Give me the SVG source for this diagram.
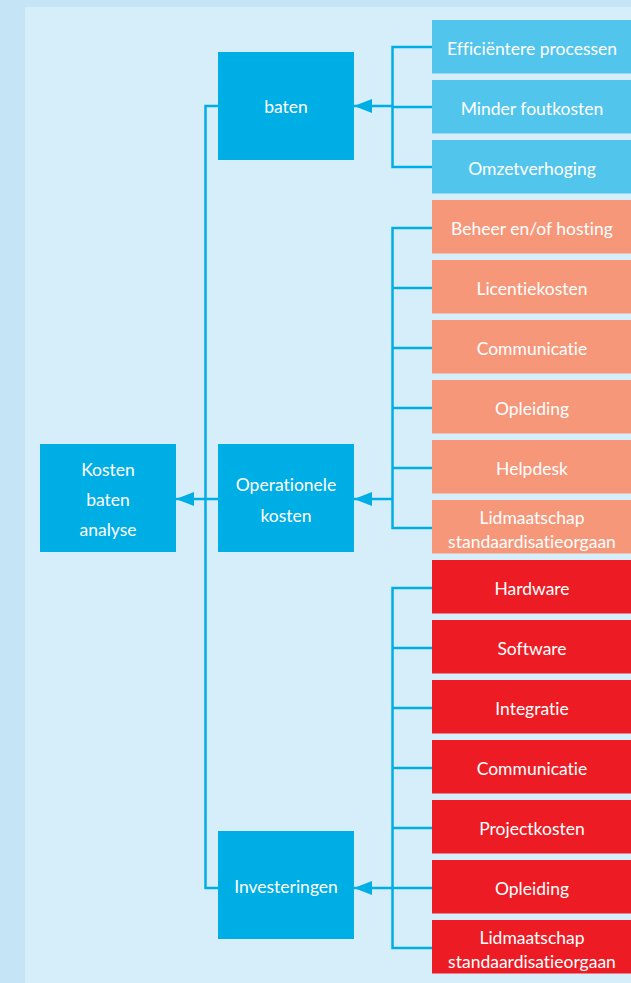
<svg xmlns="http://www.w3.org/2000/svg" width="631" height="983" viewBox="0 0 631 983">
<style>
.main{fill:#00aee6}
.ben{fill:#52c5ed}
.op{fill:#f7977a}
.inv{fill:#ed1c24}
text{font-family:Lato,"Open Sans","Liberation Sans",sans-serif;font-size:17.5px;font-weight:400;fill:#ffffff;text-anchor:middle;font-variant-ligatures:none;font-feature-settings:"liga" 0}
.ln{fill:none;stroke:#00aee6;stroke-width:2.5}
</style>
<defs>
<marker id="ah" markerUnits="userSpaceOnUse" markerWidth="18" markerHeight="14" refX="18" refY="7" orient="auto" viewBox="0 0 18 14">
<path d="M0,0 L18,7 L0,14 Z" fill="#00aee6"/>
</marker>
</defs>
<rect x="0" y="0" width="631" height="983" fill="#c5e5f7"/>
<rect x="25" y="7" width="606" height="976" fill="#d6eef9"/>

<g id="connectors">
<path class="ln" d="M218,106 H205.5 V888 H218"/>
<path class="ln" d="M218,499 H176" marker-end="url(#ah)"/>
<path class="ln" d="M432,47 H392.5 V167 H432 M432,107 H392.5"/>
<path class="ln" d="M392.5,106 H354" marker-end="url(#ah)"/>
<path class="ln" d="M432,228 H392.5 V528 H432 M432,288 H392.5 M432,348 H392.5 M432,408 H392.5 M432,468 H392.5"/>
<path class="ln" d="M392.5,499 H354" marker-end="url(#ah)"/>
<path class="ln" d="M432,588 H392.5 V948 H432 M432,648 H392.5 M432,708 H392.5 M432,768 H392.5 M432,828 H392.5 M432,888 H392.5"/>
<path class="ln" d="M392.5,888 H354" marker-end="url(#ah)"/>
</g>

<g id="kba"><rect class="main" x="40" y="444" width="136" height="108"/>
<text x="108" y="476">Kosten</text><text x="108" y="506">baten</text><text x="108" y="536">analyse</text></g>
<g id="baten"><rect class="main" x="218" y="52" width="136" height="108"/><text x="286" y="113">baten</text></g>
<g id="operationele"><rect class="main" x="218" y="444" width="136" height="108"/>
<text x="286" y="491">Operationele</text><text x="286" y="522">kosten</text></g>
<g id="investeringen"><rect class="main" x="218" y="831" width="136" height="108"/><text x="286" y="893">Investeringen</text></g>

<g id="b1"><rect class="ben" x="432" y="20" width="199" height="53.5"/><text x="532" y="55">Efficiëntere processen</text></g>
<g id="b2"><rect class="ben" x="432" y="80" width="199" height="53.5"/><text x="532" y="115">Minder foutkosten</text></g>
<g id="b3"><rect class="ben" x="432" y="140" width="199" height="53.5"/><text x="532" y="175">Omzetverhoging</text></g>

<g id="o1"><rect class="op" x="432" y="200" width="199" height="53.5"/><text x="532" y="235">Beheer en/of hosting</text></g>
<g id="o2"><rect class="op" x="432" y="260" width="199" height="53.5"/><text x="532" y="295">Licentiekosten</text></g>
<g id="o3"><rect class="op" x="432" y="320" width="199" height="53.5"/><text x="532" y="355">Communicatie</text></g>
<g id="o4"><rect class="op" x="432" y="380" width="199" height="53.5"/><text x="532" y="415">Opleiding</text></g>
<g id="o5"><rect class="op" x="432" y="440" width="199" height="53.5"/><text x="532" y="475">Helpdesk</text></g>
<g id="o6"><rect class="op" x="432" y="500" width="199" height="53.5"/><text x="532" y="524">Lidmaatschap</text><text x="532" y="548">standaardisatieorgaan</text></g>

<g id="i1"><rect class="inv" x="432" y="560" width="199" height="53.5"/><text x="532" y="595">Hardware</text></g>
<g id="i2"><rect class="inv" x="432" y="620" width="199" height="53.5"/><text x="532" y="655">Software</text></g>
<g id="i3"><rect class="inv" x="432" y="680" width="199" height="53.5"/><text x="532" y="715">Integratie</text></g>
<g id="i4"><rect class="inv" x="432" y="740" width="199" height="53.5"/><text x="532" y="775">Communicatie</text></g>
<g id="i5"><rect class="inv" x="432" y="800" width="199" height="53.5"/><text x="532" y="835">Projectkosten</text></g>
<g id="i6"><rect class="inv" x="432" y="860" width="199" height="53.5"/><text x="532" y="895">Opleiding</text></g>
<g id="i7"><rect class="inv" x="432" y="920" width="199" height="53.5"/><text x="532" y="944">Lidmaatschap</text><text x="532" y="968">standaardisatieorgaan</text></g>
</svg>
